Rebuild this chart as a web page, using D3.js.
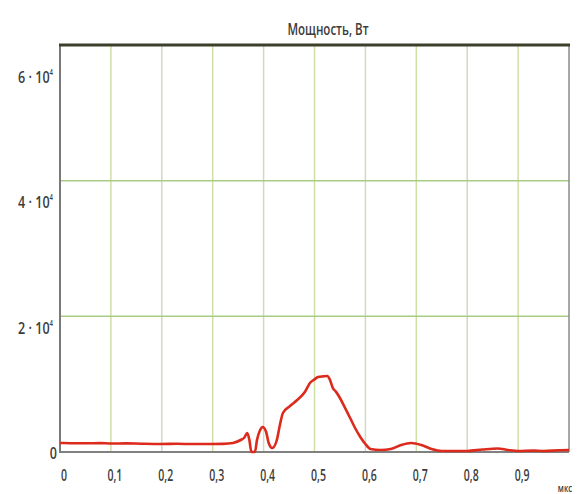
<!DOCTYPE html>
<html>
<head>
<meta charset="utf-8">
<script src="https://cdn.jsdelivr.net/npm/d3@7"></script>
<style>
  html, body { margin: 0; padding: 0; background: #fff; }
  svg { display: block; }
  text { font-family: "Open Sans", "Noto Sans", "DejaVu Sans", sans-serif; font-weight: 600; fill: #3c3c3c; }
</style>
</head>
<body>
<svg id="chart" width="586" height="494"></svg>
<script>
// Time, µs
const timeUs = [0, 0.02, 0.05, 0.08, 0.1, 0.13, 0.16, 0.2, 0.23, 0.26, 0.3, 0.32, 0.34, 0.355, 0.362, 0.368, 0.372, 0.376, 0.383, 0.387, 0.393, 0.398, 0.405, 0.41, 0.417, 0.426, 0.432, 0.438, 0.452, 0.466, 0.481, 0.491, 0.5, 0.507, 0.517, 0.525, 0.53, 0.536, 0.542, 0.55, 0.56, 0.57, 0.58, 0.59, 0.6, 0.61, 0.63, 0.65, 0.67, 0.69, 0.71, 0.73, 0.75, 0.78, 0.8, 0.83, 0.86, 0.88, 0.9, 0.93, 0.95, 0.98, 1.0];
// Power, W
const powerW = [1330, 1300, 1280, 1310, 1250, 1270, 1220, 1180, 1210, 1170, 1180, 1200, 1330, 1770, 2100, 2800, 1800, 0, 0, 1770, 3200, 3690, 2950, 1330, 590, 1770, 3980, 5750, 6780, 7660, 8840, 10170, 10700, 11050, 11150, 11200, 10700, 9430, 8900, 7960, 6500, 5010, 3500, 2210, 1180, 440, 290, 440, 1030, 1330, 1030, 440, 150, 150, 150, 370, 520, 300, 150, 200, 150, 250, 300];

const xTicks = [0, 0.1, 0.2, 0.3, 0.4, 0.5, 0.6, 0.7, 0.8, 0.9];
const xTickLabels = ["0", "0,1", "0,2", "0,3", "0,4", "0,5", "0,6", "0,7", "0,8", "0,9"];
const yTicks = [0, 20000, 40000, 60000];
const yTickLabels = [["0", ""], ["2 · 10", "4"], ["4 · 10", "4"], ["6 · 10", "4"]];
const titleText = "Мощность, Вт";
const xUnit = "мкс";

const svg = d3.select("#chart");
const plotL = 60, plotR = 569, plotT = 45, plotB = 452;

const x = d3.scaleLinear().domain([0, 1]).range([plotL, plotR]);
const y = d3.scaleLinear().domain([0, 60000]).range([plotB, plotT]);
// tick labels sit on their own slightly compressed ladder
const yLabel = d3.scaleLinear().domain([0, 60000]).range([plotB + 1, 77]);

// vertical grid
svg.append("g").selectAll("line").data(xTicks.slice(1)).join("line")
  .attr("x1", d => x(d)).attr("x2", d => x(d))
  .attr("y1", plotT).attr("y2", plotB)
  .attr("stroke", (d, i) => i % 2 ? "#d2d9bf" : "#cfe0a6")
  .attr("stroke-width", 1.5);

// horizontal grid
svg.append("g").selectAll("line").data(yTicks.slice(1, 3)).join("line")
  .attr("x1", plotL).attr("x2", plotR)
  .attr("y1", d => y(d)).attr("y2", d => y(d))
  .attr("stroke", "#a9cc84").attr("stroke-width", 1.5);

// frame
svg.append("line").attr("x1", plotL).attr("x2", plotL).attr("y1", plotT).attr("y2", plotB + 1)
  .attr("stroke", "#7a7a7a").attr("stroke-width", 2);
svg.append("line").attr("x1", plotR).attr("x2", plotR).attr("y1", plotT).attr("y2", plotB)
  .attr("stroke", "#8a8a8a").attr("stroke-width", 1.5);
svg.append("line").attr("x1", plotL).attr("x2", plotR).attr("y1", plotB).attr("y2", plotB)
  .attr("stroke", "#808080").attr("stroke-width", 2);
svg.append("line").attr("x1", plotL - 1).attr("x2", plotR + 1).attr("y1", plotT).attr("y2", plotT)
  .attr("stroke", "#3d3f2a").attr("stroke-width", 3);

// power curve
const line = d3.line().x((d, i) => x(timeUs[i])).y(d => y(d)).curve(d3.curveMonotoneX);
svg.append("path").datum(powerW)
  .attr("d", line)
  .attr("fill", "none")
  .attr("stroke", "#dc2a1c")
  .attr("stroke-width", 2.6)
  .attr("stroke-linejoin", "round");

// x tick labels (condensed lettering)
svg.append("g").selectAll("text").data(xTicks).join("text")
  .attr("transform", d => `translate(${x(d) + 4},481) scale(0.62,1)`)
  .attr("text-anchor", "middle")
  .attr("font-size", 17)
  .text((d, i) => xTickLabels[i]);

svg.append("text")
  .attr("transform", "translate(565,492) scale(0.7,1)")
  .attr("text-anchor", "middle").attr("font-size", 11).text(xUnit);

// y tick labels; plain labels sit a little closer to the axis
const yl = svg.append("g").selectAll("text").data(yTicks).join("text")
  .attr("transform", (d, i) => `translate(${yTickLabels[i][1] ? 53 : 57},${yLabel(d) + 6}) scale(0.74,1)`)
  .attr("text-anchor", "end")
  .attr("font-size", 17);
yl.append("tspan").text((d, i) => yTickLabels[i][0]);
yl.append("tspan").attr("dy", -8).attr("font-size", 8).text((d, i) => yTickLabels[i][1]);

// title
svg.append("text")
  .attr("transform", "translate(328,35) scale(0.72,1)")
  .attr("text-anchor", "middle").attr("font-size", 16).text(titleText);
</script>
</body>
</html>
